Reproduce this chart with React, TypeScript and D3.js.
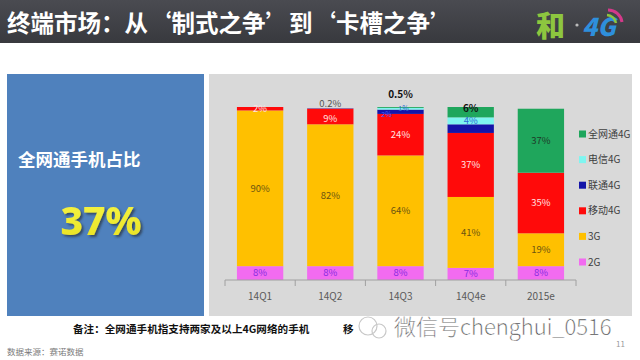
import * as d3 from 'd3';

const categories = ['14Q1', '14Q2', '14Q3', '14Q4e', '2015e'];
const seriesNames = ['2G', '3G', '移动4G', '联通4G', '电信4G', '全网通4G'];
const seriesColors = ['#f26bf0', '#ffc000', '#ff0a0a', '#1414a8', '#7ff5f0', '#1fa65c'];

// values per series, same order as categories
const share2G = [8, 8, 8, 7, 8];
const share3G = [90, 82, 64, 41, 19];
const shareCM4G = [2, 9, 24, 37, 35];
const shareCU4G = [0, 0.2, 2.5, 5, 0];
const shareCT4G = [0, 0, 1, 4, 0];
const shareAll4G = [0, 0, 0.5, 6, 37];

const labels2G = ['8%', '8%', '8%', '7%', '8%'];
const labels3G = ['90%', '82%', '64%', '41%', '19%'];
const labelsCM4G = ['2%', '9%', '24%', '37%', '35%'];
const labelsCU4G = ['', '0.2%', '2%', '', ''];
const labelsCT4G = ['', '', '1%', '4%', ''];
const labelsAll4G = ['', '', '0.5%', '6%', '37%'];

const W = 640;
const H = 360;

const App = () => {
  const rows = categories.map((c, i) => ({
    cat: c,
    '2G': share2G[i],
    '3G': share3G[i],
    '移动4G': shareCM4G[i],
    '联通4G': shareCU4G[i],
    '电信4G': shareCT4G[i],
    '全网通4G': shareAll4G[i],
  }));
  const labelSets = [labels2G, labels3G, labelsCM4G, labelsCU4G, labelsCT4G, labelsAll4G];
  const labelColors = ['#8a2be2', '#6b5410', '#ffe0e0', '#3b5bff', '#2d6cd6', '#1e3a28'];

  const stacked = d3.stack().keys(seriesNames)(rows as any);

  const x = d3.scaleBand().domain(categories).range([225, 576]).paddingInner(0.34).paddingOuter(0.17);
  const y = d3.scaleLinear().domain([0, 100]).range([280, 107]);
  const step = x.step();
  const tickXs = d3.range(categories.length + 1).map((i) => x.range()[0] + i * step);

  const font = '"Noto Sans CJK SC", "Noto Sans", sans-serif';

  // label placement tweaks for the thin slices
  const labelPos = (si, ci, y0, y1) => {
    const cx = x(categories[ci])! + x.bandwidth() / 2;
    let cy = (y(y0) + y(y1)) / 2;
    let dx = 0;
    if (si === 2 && ci === 1) cy = y(y1) + 10;
    if (si === 5 && ci === 2) cy = y(y1) - 13;
    if (si === 3 && ci === 1) cy = y(y1) - 5;
    if (si === 3 && ci === 2) { dx = -14; cy = y(y1) + 5; }
    if (si === 4 && ci === 2) { dx = 3; cy = y(y1) + 1; }
    if (si === 5 && ci === 3) cy = y(y1) + 1;
    return [cx + dx, cy];
  };

  return (
    <svg width={W} height={H} style={{ position: 'absolute', left: 0, top: 0 }} fontFamily={font}>
      <defs>
        <linearGradient id="titleBg" x1="0" y1="0" x2="0" y2="1">
          <stop offset="0" stopColor="#4a4b51" />
          <stop offset="1" stopColor="#38393e" />
        </linearGradient>
        <linearGradient id="yel" x1="0" y1="0" x2="0" y2="1">
          <stop offset="0" stopColor="#f7f74a" />
          <stop offset="1" stopColor="#e8e020" />
        </linearGradient>
        <filter id="shadow" x="-20%" y="-20%" width="140%" height="140%">
          <feDropShadow dx="2" dy="2" stdDeviation="1" floodColor="#2a3340" floodOpacity="0.7" />
        </filter>
      </defs>
      <rect width={W} height={H} fill="#ffffff" />

      {/* title bar */}
      <rect x={0} y={0} width={W} height={43} fill="url(#titleBg)" />
      <text x={7} y={32} fill="#ffffff" fontSize={23.5} fontWeight={700}>
        终端市场：从‘制式之争’到‘卡槽之争’
      </text>
      <text x={536} y={37} fill="#8dc63f" fontSize={29} fontWeight={900}>和</text>
      <circle cx={577} cy={25} r={1.6} fill="#bbbbbb" />
      <text x={582} y={36} fill="#2e8fdc" fontSize={25} fontWeight={900} fontStyle="italic">4G</text>
      <path d="M608,10 A14,14 0 0 1 622,22" fill="none" stroke="#d33a8a" strokeWidth={3} />
      <path d="M607,15 A10,10 0 0 1 616,23" fill="none" stroke="#8dc63f" strokeWidth={2.5} />

      {/* left summary box */}
      <rect x={7} y={74} width={197} height={242} fill="#4f81bd" />
      <text x={18} y={166} fill="#ffffff" fontSize={17.5} fontWeight={700}>全网通手机占比</text>
      <text x={101} y={235} fill="url(#yel)" fontSize={39} fontWeight={800} textAnchor="middle" fontFamily='"Noto Sans", sans-serif' filter="url(#shadow)">37%</text>

      {/* chart panel */}
      <rect x={209} y={74} width={423} height={242} fill="#d9d9d9" />

      {stacked.map((s, si) => (
        <g key={seriesNames[si]} fill={seriesColors[si]}>
          {s.map((d, ci) =>
            d[1] - d[0] > 0 ? (
              <rect
                key={ci}
                x={x(categories[ci])}
                y={y(d[1])}
                width={x.bandwidth()}
                height={y(d[0]) - y(d[1])}
              />
            ) : null
          )}
        </g>
      ))}

      {stacked.map((s, si) =>
        s.map((d, ci) => {
          const t = labelSets[si][ci];
          if (!t) return null;
          const [lx, ly] = labelPos(si, ci, d[0], d[1]);
          const special = (si === 5 && (ci === 2 || ci === 3));
          const tiny = (si === 3 || si === 4) && ci === 2;
          return (
            <text
              key={`${si}-${ci}`}
              x={lx}
              y={ly}
              dy="0.35em"
              textAnchor="middle"
              fontSize={special ? 10 : tiny ? 7 : 9.5}
              fontWeight={special ? 700 : 400}
              fill={special ? '#111111' : si === 3 && ci === 1 ? '#555555' : labelColors[si]}
            >
              {t}
            </text>
          );
        })
      )}

      {/* axis */}
      <line x1={x.range()[0]} x2={x.range()[1]} y1={280} y2={280} stroke="#a0a0a0" />
      {tickXs.map((tx, i) => (
        <line key={i} x1={tx} x2={tx} y1={280} y2={286} stroke="#a0a0a0" />
      ))}
      {categories.map((c) => (
        <text key={c} x={x(c)! + x.bandwidth() / 2} y={296} dy="0.35em" textAnchor="middle" fontSize={10} fill="#595959">
          {c}
        </text>
      ))}

      {/* legend */}
      {seriesNames
        .slice()
        .reverse()
        .map((n, i) => {
          const si = seriesNames.length - 1 - i;
          const ly = 134 + i * 25.6;
          return (
            <g key={n}>
              <rect x={579} y={ly - 3.5} width={7} height={7} fill={seriesColors[si]} />
              <text x={588} y={ly} dy="0.35em" fontSize={10} fill="#404040">{n}</text>
            </g>
          );
        })}

      {/* footer */}
      <text x={73} y={333} fontSize={10.6} fontWeight={700} fill="#111111">备注：全网通手机指支持两家及以上4G网络的手机</text>
      <text x={343} y={333} fontSize={10.6} fontWeight={700} fill="#111111">移</text>
      <circle cx={368} cy={326} r={9} fill="none" stroke="#c8c8c8" strokeWidth={1.2} />
      <circle cx={379} cy={331} r={7} fill="none" stroke="#c8c8c8" strokeWidth={1.2} />
      <text x={394} y={335} fontSize={22} fontWeight={300} fill="#3a3a3a" stroke="#ffffff" strokeWidth={0.4}>微信号chenghui_0516</text>
      <text x={7} y={355} fontSize={8.5} fill="#7a7a7a">数据来源：赛诺数据</text>
      <text x={625} y={347} fontSize={8} fill="#9a9a9a" textAnchor="end">11</text>
    </svg>
  );
};

export default App;
